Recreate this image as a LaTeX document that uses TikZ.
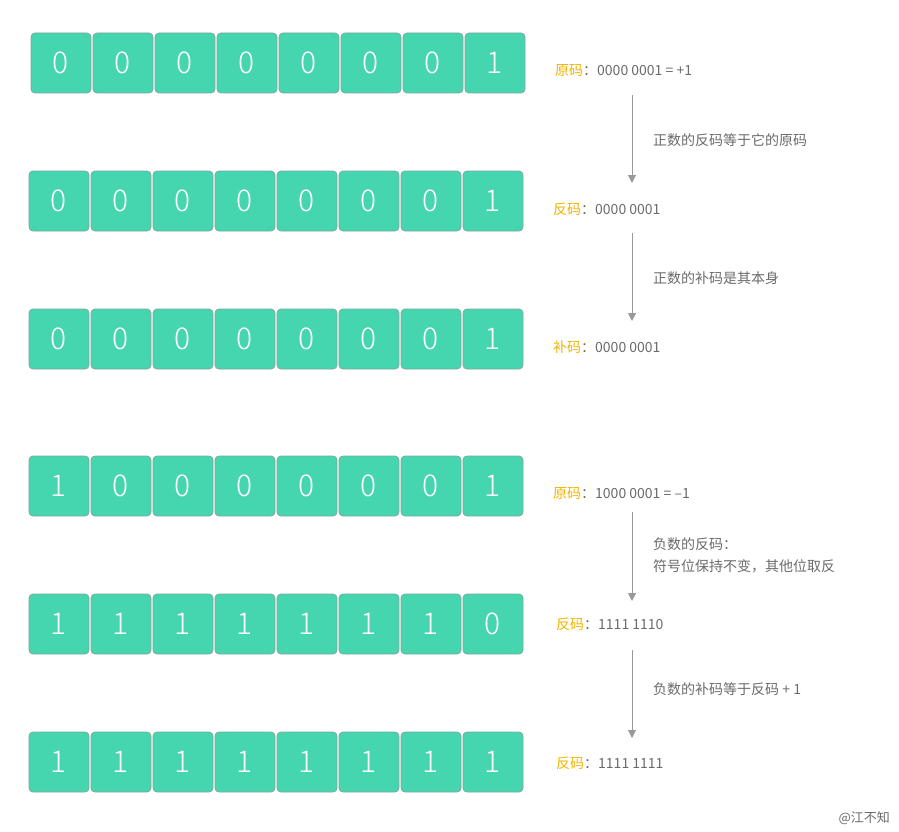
\documentclass[tikz,border=0pt]{standalone}
\usepackage{fontspec}
\setmainfont{Noto Sans CJK SC}
\newfontfamily\digitfont{Noto Sans CJK SC Light}
\usetikzlibrary{arrows.meta}
\definecolor{boxg}{HTML}{45D6AF}
\definecolor{boxb}{HTML}{7FA89C}
\definecolor{lab}{HTML}{F2B400}
\definecolor{txt}{HTML}{6A6A6A}
\definecolor{arr}{HTML}{999999}
\begin{document}
\begin{tikzpicture}[x=1pt,y=-1pt,
  bit/.style={draw=boxb,fill=boxg,rounded corners=4pt,minimum width=60pt,minimum height=60pt,inner sep=0,line width=0.8pt,text=white,font=\fontsize{30}{30}\selectfont\digitfont},
  lbl/.style={anchor=west,text=txt,font=\fontsize{14}{16}\selectfont,inner sep=0},
  note/.style={anchor=west,text=txt,font=\fontsize{14}{22}\selectfont,inner sep=0,align=left},
  ar/.style={draw=arr,line width=1pt,-{Triangle[length=8pt,width=8pt]}}]
\useasboundingbox (0,0) rectangle (899,832);
\foreach \r/\y/\x/\bits in {1/63/61/{0,0,0,0,0,0,0,1},2/201/59/{0,0,0,0,0,0,0,1},3/339/59/{0,0,0,0,0,0,0,1},4/486/59/{1,0,0,0,0,0,0,1},5/624/59/{1,1,1,1,1,1,1,0},6/762/59/{1,1,1,1,1,1,1,1}}{
  \foreach \b [count=\i] in \bits{
    \node[bit] (b\r\i) at ({\x+62*(\i-1)},\y) {\b};
  }
}
\node[lbl] (l1) at (555,71) {\textcolor{lab}{原码}：0000 0001 = +1};
\node[lbl] (l2) at (553,209) {\textcolor{lab}{反码}：0000 0001};
\node[lbl] (l3) at (553,347) {\textcolor{lab}{补码}：0000 0001};
\node[lbl] (l4) at (553,494) {\textcolor{lab}{原码}：1000 0001 = –1};
\node[lbl] (l5) at (556,624) {\textcolor{lab}{反码}：1111 1110};
\node[lbl] (l6) at (556,763) {\textcolor{lab}{反码}：1111 1111};
\coordinate (a1) at (632,95); \coordinate (e1) at (632,183);
\coordinate (a2) at (632,233); \coordinate (e2) at (632,321);
\coordinate (a4) at (632,512); \coordinate (e4) at (632,601);
\coordinate (a5) at (632,650); \coordinate (e5) at (632,738);
\draw[ar] (a1) -- (e1);
\draw[ar] (a2) -- (e2);
\draw[ar] (a4) -- (e4);
\draw[ar] (a5) -- (e5);
\node[note] (n1) at (653,140) {正数的反码等于它的原码};
\node[note] (n2) at (653,278) {正数的补码是其本身};
\node[note] (n4) at (653,555) {负数的反码：\\符号位保持不变，其他位取反};
\node[note] (n5) at (653,689) {负数的补码等于反码 + 1};
\node[anchor=east,text=txt,font=\fontsize{13}{14}\selectfont,inner sep=0] (w) at (890,818) {@江不知};
\end{tikzpicture}
\end{document}
